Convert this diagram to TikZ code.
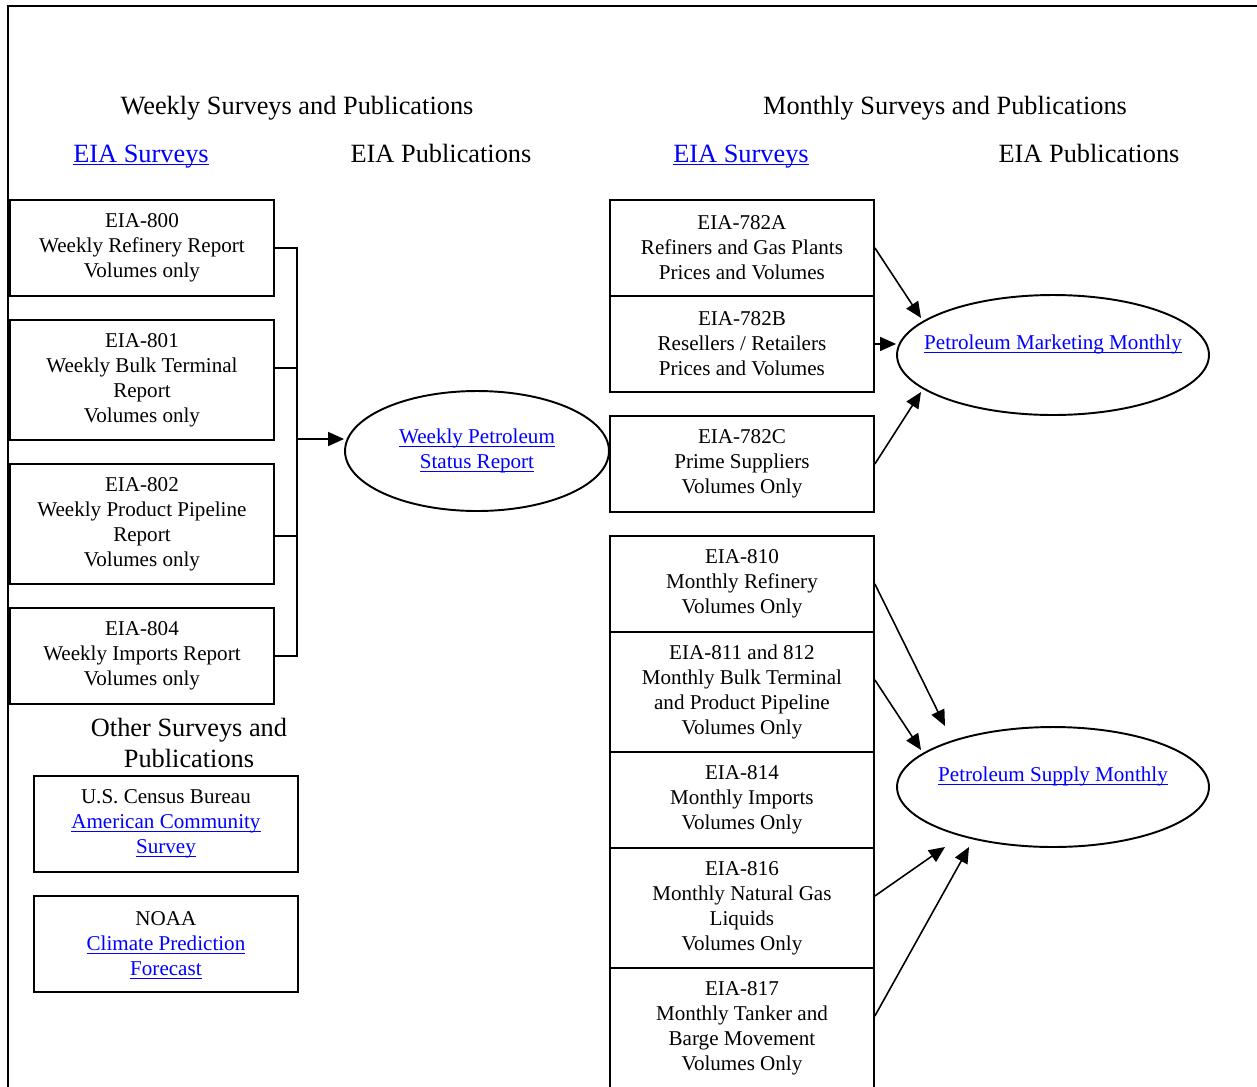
\documentclass[tikz,border=0pt]{standalone}
\usepackage{fontspec}
\setmainfont{Liberation Serif}
\usetikzlibrary{arrows.meta,shapes.geometric,positioning}
\definecolor{linkblue}{RGB}{0,0,255}
\newsavebox\lnkbox
\newcommand\lnk[1]{{\color{linkblue}\sbox\lnkbox{#1}\rlap{\smash{\rule[-1.8pt]{\wd\lnkbox}{0.55pt}}}\usebox\lnkbox}}

\begin{document}
\begin{tikzpicture}[x=0.02cm, y=-0.02cm,
    every node/.style={font=\fontsize{12}{14.23}\selectfont},
    survey/.style={draw, line width=1.1pt, minimum width=5.28cm, minimum height=1.92cm,
                   align=center, inner sep=0pt, anchor=north west},
    tall/.style={minimum height=2.4cm},
    pub/.style={draw, ellipse, line width=1.1pt, minimum height=2.4cm, inner sep=0pt, align=center},
    head/.style={font=\fontsize{15}{17.6}\selectfont, align=center},
    arr/.style={-{Triangle[length=0.32cm,width=0.28cm]}, line width=0.9pt}]

    \clip (0,0) rectangle (1257,1086);

    % outer frame
    \draw[line width=1.1pt] (1270,6) -- (8,6) -- (8,1100);

    % -------------------------------
    % headings
    % -------------------------------
    \node[head, anchor=base] (wkhead) at (297,114) {Weekly Surveys and Publications};
    \node[head, anchor=base] (mohead) at (945,114) {Monthly Surveys and Publications};
    \node[head, anchor=base] (wksurv) at (141,162) {\lnk{EIA Surveys}};
    \node[head, anchor=base] (wkpub)  at (441,162) {EIA Publications};
    \node[head, anchor=base] (mosurv) at (741,162) {\lnk{EIA Surveys}};
    \node[head, anchor=base] (mopub)  at (1089,162) {EIA Publications};

    % -------------------------------
    % weekly surveys
    % -------------------------------
    \node[survey] (eia800) at (9,199) {EIA-800\\Weekly Refinery Report\\Volumes only};
    \node[survey, tall] (eia801) at (9,319) {EIA-801\\Weekly Bulk Terminal\\Report\\Volumes only};
    \node[survey, tall] (eia802) at (9,463) {EIA-802\\Weekly Product Pipeline\\Report\\Volumes only};
    \node[survey] (eia804) at (9,607) {EIA-804\\Weekly Imports Report\\Volumes only};

    \node[pub, minimum width=5.28cm] (wpsr) at (477,451) {\lnk{Weekly Petroleum}\\\lnk{Status Report}};

    % bracket into the weekly report
    \coordinate (join) at (297,439);
    \draw[line width=0.9pt] (eia800.east) -| (join);
    \draw[line width=0.9pt] ([yshift=0.24cm]eia801.east) -| (join);
    \draw[line width=0.9pt] ([yshift=-0.24cm]eia802.east) -| (join);
    \draw[line width=0.9pt] (eia804.east) -| (join);
    \draw[arr] (join) -- (wpsr.west |- join);

    % -------------------------------
    % other surveys
    % -------------------------------
    \node[head] (othead) at (189,743) {Other Surveys and\\Publications};
    \node[survey] (census) at (33,775) {U.S. Census Bureau\\\lnk{American Community}\\\lnk{Survey}};
    \node[survey] (noaa) at (33,895) {NOAA\\\lnk{Climate Prediction}\\\lnk{Forecast}};

    % -------------------------------
    % monthly surveys
    % -------------------------------
    \node[survey] (eia782a) at (609,199) {EIA-782A\\Refiners and Gas Plants\\Prices and Volumes};
    \node[survey] (eia782b) at (609,295) {EIA-782B\\Resellers / Retailers\\Prices and Volumes};
    \node[survey] (eia782c) at (609,415) {EIA-782C\\Prime Suppliers\\Volumes Only};
    \node[survey] (eia810) at (609,535) {EIA-810\\Monthly Refinery\\Volumes Only};
    \node[survey, tall] (eia811) at (609,631) {EIA-811 and 812\\Monthly Bulk Terminal\\and Product Pipeline\\Volumes Only};
    \node[survey] (eia814) at (609,751) {EIA-814\\Monthly Imports\\Volumes Only};
    \node[survey, tall] (eia816) at (609,847) {EIA-816\\Monthly Natural Gas\\Liquids\\Volumes Only};
    \node[survey, tall] (eia817) at (609,967) {EIA-817\\Monthly Tanker and\\Barge Movement\\Volumes Only};

    \node[pub, minimum width=6.24cm,
          label={[align=center]center:\lnk{Petroleum Marketing Monthly}\\\mbox{}}] (pmm) at (1053,355) {};
    \node[pub, minimum width=6.24cm,
          label={[align=center]center:\lnk{Petroleum Supply Monthly}\\\mbox{}}] (psm) at (1053,787) {};

    % arrow ends
    \coordinate (pmmin1) at (921,318);
    \coordinate (pmmin3) at (921,392);
    \coordinate (psmin1) at (945,726);
    \coordinate (psmin2) at (921,750);
    \coordinate (psmin3) at (945,847);
    \coordinate (psmin4) at (969,847);

    \draw[arr] (eia782a.east) -- (pmmin1);
    \draw[arr] (eia782b.east) -- (eia782b.east -| pmm.west);
    \draw[arr] (eia782c.east) -- (pmmin3);

    \draw[arr] (eia810.east) -- (psmin1);
    \draw[arr] ([yshift=0.24cm]eia811.east) -- (psmin2);
    \draw[arr] ([yshift=0.24cm]eia816.east) -- (psmin3);
    \draw[arr] ([yshift=0.24cm]eia817.east) -- (psmin4);

\end{tikzpicture}
\end{document}
